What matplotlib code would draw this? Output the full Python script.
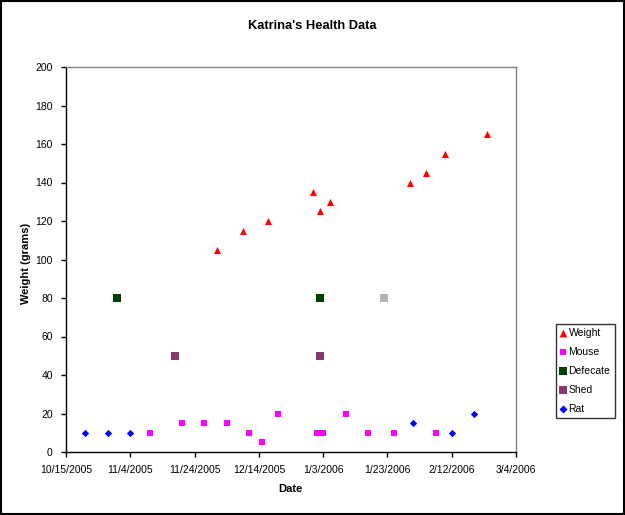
import datetime as dt
import matplotlib
matplotlib.use("Agg")
import matplotlib.pyplot as plt
import matplotlib.dates as mdates
from matplotlib.patches import Rectangle

plt.rcParams['font.family'] = ['Liberation Sans', 'DejaVu Sans']

# Data
weight_dates = ["2005-12-01", "2005-12-09", "2005-12-17", "2005-12-31", "2006-01-02",
                "2006-01-05", "2006-01-30", "2006-02-04", "2006-02-10", "2006-02-23"]
weight_vals = [105, 115, 120, 135, 125, 130, 140, 145, 155, 165]

mouse_dates = ["2005-11-10", "2005-11-20", "2005-11-27", "2005-12-04", "2005-12-11",
               "2005-12-15", "2005-12-20", "2006-01-01", "2006-01-03", "2006-01-10",
               "2006-01-17", "2006-01-25", "2006-02-07"]
mouse_vals = [10, 15, 15, 15, 10, 5, 20, 10, 10, 20, 10, 10, 10]

defecate_dates = ["2005-10-31", "2006-01-02"]
defecate_vals = [80, 80]

# one extra defecate point drawn in gray, not in the legend
defecate_gray_dates = ["2006-01-22"]
defecate_gray_vals = [80]

shed_dates = ["2005-11-18", "2006-01-02"]
shed_vals = [50, 50]

rat_dates = ["2005-10-21", "2005-10-28", "2005-11-04", "2006-01-31", "2006-02-12",
             "2006-02-19"]
rat_vals = [10, 10, 10, 15, 10, 20]

x_start = dt.date(2005, 10, 15)
x_end = dt.date(2006, 3, 4)


def to_dates(lst):
    return [dt.datetime.strptime(s, "%Y-%m-%d") for s in lst]


fig = plt.figure(figsize=(6.25, 5.15), dpi=100)
ax = fig.add_axes([66 / 625, 1 - 452 / 515, 450 / 625, 385 / 515])

ax.scatter(to_dates(weight_dates), weight_vals, marker='^', s=26, color='#ff0000',
           linewidths=0, label='Weight', zorder=3)
ax.scatter(to_dates(mouse_dates), mouse_vals, marker='s', s=18, color='#ff00ff',
           linewidths=0, label='Mouse', zorder=3)
ax.scatter(to_dates(defecate_dates), defecate_vals, marker='s', s=32, color='#004000',
           linewidths=0, label='Defecate', zorder=3)
ax.scatter(to_dates(shed_dates), shed_vals, marker='s', s=32, color='#883a6e',
           linewidths=0, label='Shed', zorder=3)
ax.scatter(to_dates(rat_dates), rat_vals, marker='D', s=14, color='#0000ff',
           linewidths=0, label='Rat', zorder=3)
ax.scatter(to_dates(defecate_gray_dates), defecate_gray_vals, marker='s', s=32,
           color='#b4b4b4', linewidths=0, zorder=3)

ax.set_xlim(mdates.date2num(x_start), mdates.date2num(x_end))
ax.set_ylim(0, 200)
ax.set_yticks(range(0, 201, 20))
xticks = [mdates.date2num(x_start) + 20 * i for i in range(8)]
ax.set_xticks(xticks)
ax.set_xticklabels([f"{d.month}/{d.day}/{d.year}" for d in mdates.num2date(xticks)])

ax.tick_params(direction='out', length=3.5, width=1, labelsize=7.5, colors='black')
ax.tick_params(axis='y', pad=6)
ax.tick_params(axis='x', pad=6)

for side in ['top', 'right']:
    ax.spines[side].set_color('#808080')
    ax.spines[side].set_linewidth(1)
for side in ['left', 'bottom']:
    ax.spines[side].set_color('black')
    ax.spines[side].set_linewidth(1)

ax.set_xlabel("Date", fontsize=8, fontweight='bold')
ax.set_ylabel("Weight (grams)", fontsize=8, fontweight='bold')
ax.xaxis.label.set_va('center')
ax.yaxis.label.set_va('center')
ax.xaxis.set_label_coords((290 - 66) / 450, (452 - 489) / 385)
ax.yaxis.set_label_coords((26 - 66) / 450, (452 - 263) / 385)

fig.text(312 / 625, 1 - 26 / 515, "Katrina's Health Data", ha='center', va='center',
         fontsize=9.3, fontweight='bold')

leg = fig.legend(loc='upper left', bbox_to_anchor=(556 / 625, 1 - 324 / 515),
                 fontsize=7.5, frameon=True, fancybox=False, handlelength=0.6,
                 handletextpad=0.2, borderpad=0.4, labelspacing=0.85,
                 borderaxespad=0, markerscale=1.1)
leg.get_frame().set_edgecolor('black')
leg.get_frame().set_linewidth(1)

# outer chart border
fig.patches.append(Rectangle((0.001, 0.001), 0.997, 0.997, transform=fig.transFigure,
                             fill=False, edgecolor='black', linewidth=1.5))

fig.savefig("out.png", dpi=100)
